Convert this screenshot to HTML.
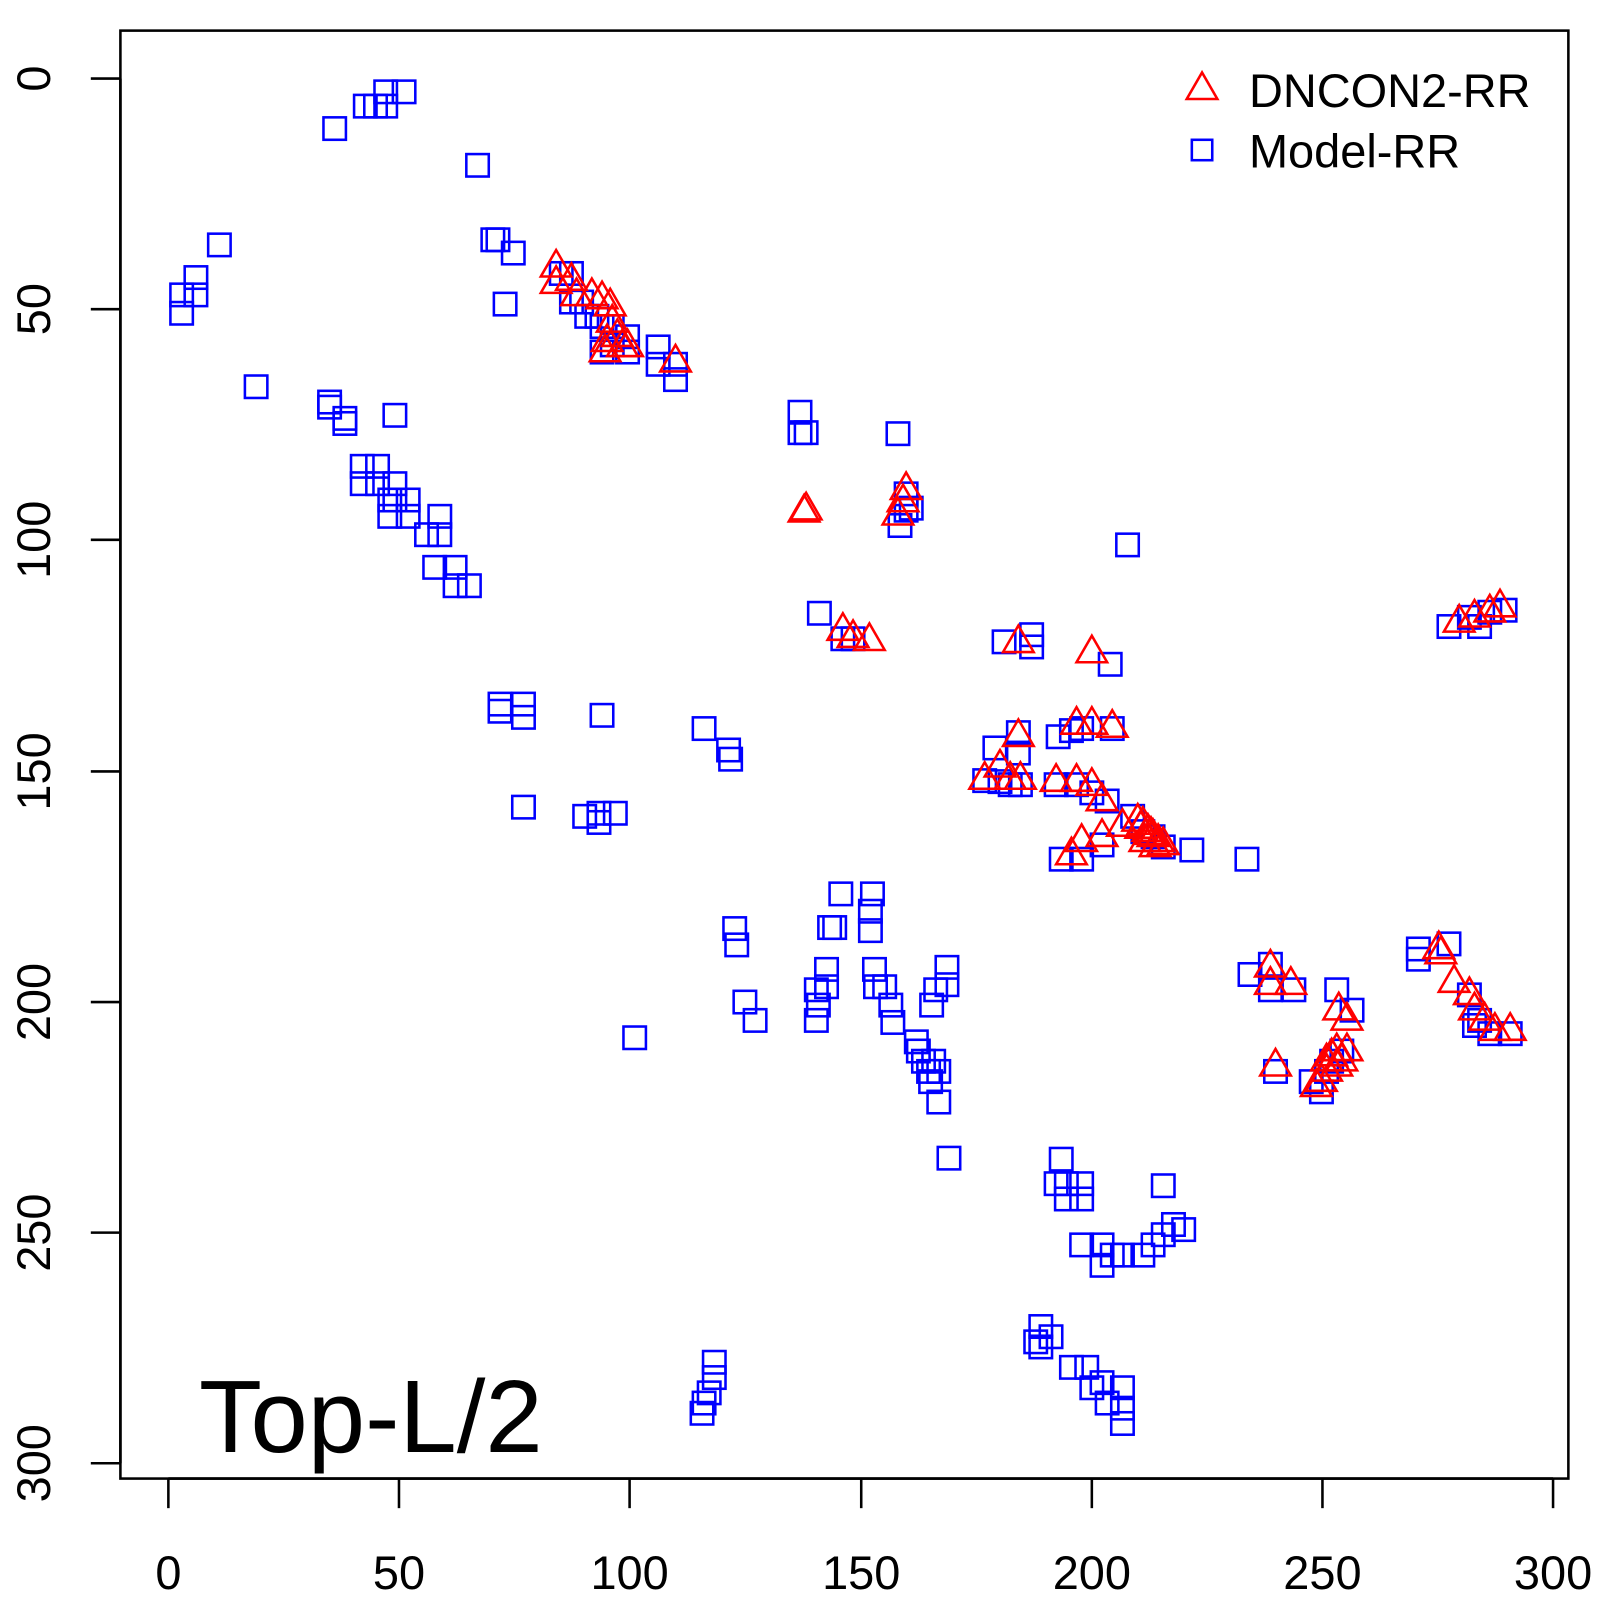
<!DOCTYPE html>
<html><head><meta charset="utf-8"><style>html,body{margin:0;padding:0;background:#fff}svg{display:block}</style></head>
<body>
<svg id="s" width="1600" height="1600" viewBox="0 0 1568 1568" xmlns="http://www.w3.org/2000/svg" font-family="Liberation Sans, sans-serif">
<rect x="0" y="0" width="1568" height="1568" fill="#fff"/>
<g id="pts"></g>
<rect x="118" y="30" width="1419" height="1419" fill="none" stroke="#000" stroke-width="2.5"/>
<g stroke="#000" stroke-width="2.5">
<line x1="165" y1="1449" x2="1522" y2="1449"/>
<line x1="165" y1="1449" x2="165" y2="1478"/><line x1="391" y1="1449" x2="391" y2="1478"/><line x1="617" y1="1449" x2="617" y2="1478"/><line x1="844" y1="1449" x2="844" y2="1478"/><line x1="1070" y1="1449" x2="1070" y2="1478"/><line x1="1296" y1="1449" x2="1296" y2="1478"/><line x1="1522" y1="1449" x2="1522" y2="1478"/>
<line x1="118" y1="77" x2="118" y2="1434"/>
<line x1="89" y1="77" x2="118" y2="77"/><line x1="89" y1="303" x2="118" y2="303"/><line x1="89" y1="529" x2="118" y2="529"/><line x1="89" y1="756" x2="118" y2="756"/><line x1="89" y1="982" x2="118" y2="982"/><line x1="89" y1="1208" x2="118" y2="1208"/><line x1="89" y1="1434" x2="118" y2="1434"/>
</g>
<g font-size="46" text-anchor="middle" fill="#000">
<text x="165" y="1557">0</text><text x="391" y="1557">50</text><text x="617" y="1557">100</text><text x="844" y="1557">150</text><text x="1070" y="1557">200</text><text x="1296" y="1557">250</text><text x="1522" y="1557">300</text>
<text transform="translate(49,77) rotate(-90)">0</text>
<text transform="translate(49,303) rotate(-90)">50</text>
<text transform="translate(49,529) rotate(-90)">100</text>
<text transform="translate(49,756) rotate(-90)">150</text>
<text transform="translate(49,982) rotate(-90)">200</text>
<text transform="translate(49,1208) rotate(-90)">250</text>
<text transform="translate(49,1434) rotate(-90)">300</text>
</g>
<text x="195" y="1423" font-size="101" fill="#000">Top-L/2</text>
<polygon points="1163,97 1193,97 1178,71" fill="none" stroke="red" stroke-width="2.5"/>
<rect x="1168" y="137" width="20" height="20" fill="none" stroke="blue" stroke-width="2.5"/>
<text x="1224" y="105" font-size="46" fill="#000">DNCON2-RR</text>
<text x="1224" y="164" font-size="46" fill="#000">Model-RR</text>
</svg>
<script>
var sq=[[328,126],[358,104],[368,104],[378,104],[378,90],[396,90],[468,162],[483,235],[488,235],[503,248],[495,298],[215,240],[192,272],[192,289],[178,289],[178,307],[251,379],[323,394],[323,399],[338,410],[338,415],[387,407],[355,457],[355,474],[370,457],[370,474],[387,474],[387,490],[382,490],[382,506],[400,490],[400,506],[431,506],[431,524],[418,524],[426,556],[446,556],[446,574],[460,574],
[550,268],[560,268],[560,296],[570,296],[575,310],[585,310],[590,320],[600,320],[600,338],[590,345],[615,330],[615,345],[645,340],[645,357],[662,357],[662,372],
[784,404],[784,424],[790,424],[880,425],[888,484],[888,500],[882,515],[893,498],[1105,534],
[803,601],[826,626],[836,626],[984,629],[1011,622],[1011,634],[1088,651],
[490,690],[490,697],[513,690],[513,703],[590,701],[513,791],[573,800],[587,797],[587,806],[603,797],[690,714],[714,735],[716,744],
[975,733],[998,718],[998,738],[1037,722],[1050,716],[1060,714],[1090,714],[965,765],[980,766],[990,769],[1000,769],[1035,769],[1055,769],[1070,777],[1085,785],[1110,800],[1120,815],[1130,820],[1140,830],[1168,833],[1040,842],[1060,842],[1080,828],[1222,842],
[824,876],[853,893],[853,912],[818,909],[813,909],[855,876],[857,950],[867,967],[873,985],[875,1002],[858,967],[800,970],[802,985],[810,950],[810,967],[800,1000],[720,910],[722,926],[730,982],[740,1000],[622,1017],[898,1021],[900,1030],[905,1040],[910,1050],[915,1040],[920,1050],[912,1060],[920,1080],[928,948],[928,965],[930,1135],[913,985],[917,970],
[1225,955],[1245,945],[1245,970],[1268,970],[1310,970],[1325,990],[1285,1060],[1300,1050],[1305,1040],[1315,1030],[1295,1070],[1250,1050],[1420,925],[1390,930],[1390,940],[1440,975],[1450,1000],[1480,1013],[1460,1013],[1445,1005],
[1420,614],[1440,605],[1460,600],[1475,598],[1450,614],
[1040,1136],[1035,1160],[1045,1160],[1060,1160],[1060,1175],[1045,1175],[1140,1162],[1060,1220],[1080,1220],[1080,1240],[1090,1230],[1120,1230],[1130,1220],[1140,1210],[1150,1200],[1160,1205],[1100,1230],
[1020,1300],[1020,1320],[1015,1315],[1030,1310],[1050,1340],[1065,1340],[1070,1360],[1080,1355],[1085,1375],[1100,1360],[1100,1380],[1100,1395],
[700,1335],[700,1350],[695,1365],[690,1375],[688,1385]];
var tr=[[545,262],[545,278],[560,275],[565,290],[580,290],[590,293],[598,300],[600,316],[595,335],[605,330],[610,340],[615,340],[593,345],[662,355],[790,500],[788,502],[888,480],[885,492],[880,505],[826,618],[836,625],[852,628],[998,630],[1070,640],[998,722],[1055,710],[1070,710],[1090,713],[965,764],[980,752],[990,764],[1000,764],[1035,766],[1055,766],[1070,770],[1080,785],[1050,838],[1060,825],[1080,820],[1100,810],[1115,805],[1120,808],[1125,815],[1130,820],[1135,825],[1140,828],[1118,812],[1128,818],[1122,825],[1132,830],[1245,948],[1245,965],[1265,965],[1250,1045],[1290,1065],[1300,1050],[1305,1035],[1310,1045],[1320,1030],[1295,1060],[1300,1040],[1310,1030],[1315,1040],[1312,990],[1320,1000],[1410,930],[1412,935],[1425,963],[1440,975],[1445,990],[1455,1000],[1465,1010],[1480,1010],[1430,610],[1445,605],[1460,600],[1470,595]];
var g=document.getElementById('pts'),h='';
sq.forEach(function(p){h+='<rect x="'+(p[0]-11)+'" y="'+(p[1]-11)+'" width="22" height="22" fill="none" stroke="blue" stroke-width="2.5"/>';});
tr.forEach(function(p){h+='<polygon points="'+(p[0]-15)+','+(p[1]+9)+' '+(p[0]+15)+','+(p[1]+9)+' '+p[0]+','+(p[1]-17)+'" fill="none" stroke="red" stroke-width="2.5"/>';});
g.innerHTML=h;
</script>
</body></html>
